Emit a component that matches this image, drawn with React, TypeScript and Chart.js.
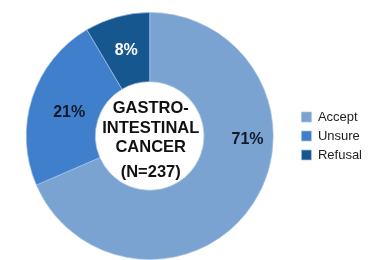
import React, { useEffect, useRef } from "react";
import { Chart, registerables } from "chart.js";

Chart.register(...registerables);

const categories = ["Accept", "Unsure", "Refusal"];
const values = [68.5, 23, 8.5];
const percentLabels = ["71%", "21%", "8%"];
const centerLines = ["GASTRO-", "INTESTINAL", "CANCER", "(N=237)"];
const colors = ["#7aa3d1", "#3f7fcb", "#17578f"];
const labelColors = ["#111a2b", "#111a2b", "#ffffff"];

const labelPlugin = {
  id: "sliceLabels",
  afterDatasetsDraw(chart: any) {
    const ctx = chart.ctx;
    const meta = chart.getDatasetMeta(0);
    ctx.save();
    ctx.textAlign = "center";
    ctx.textBaseline = "middle";
    ctx.font = "bold 16px Arial, 'Liberation Sans', sans-serif";
    meta.data.forEach((arc: any, i: number) => {
      const p = arc.getProps(["x", "y", "startAngle", "endAngle", "innerRadius", "outerRadius"], true);
      let angle = (p.startAngle + p.endAngle) / 2;
      let r = (p.innerRadius + p.outerRadius) / 2;
      if (i === 0) {
        angle = 0.04;
        r = r + 9;
      } else if (i === 1) {
        angle = angle - 0.03;
        r = r - 5;
      }
      const x = p.x + Math.cos(angle) * r;
      const y = p.y + Math.sin(angle) * r;
      ctx.fillStyle = labelColors[i];
      ctx.fillText(percentLabels[i], x, y);
    });
    const a = meta.data[0];
    const cx = a.x + 1;
    const cy = a.y;
    ctx.fillStyle = "#111111";
    ctx.font = "bold 16.5px Arial, 'Liberation Sans', sans-serif";
    const offs = [-28, -8, 11, 36];
    centerLines.forEach((t, i) => ctx.fillText(t, cx, cy + offs[i]));
    ctx.restore();
  },
};

export default function App() {
  const ref = useRef<HTMLCanvasElement>(null);
  useEffect(() => {
    if (!ref.current) return;
    const chart = new Chart(ref.current, {
      type: "doughnut",
      data: {
        labels: categories,
        datasets: [
          {
            data: values,
            backgroundColor: colors,
            borderColor: "rgba(170,195,230,0.7)",
            borderWidth: 1,
          },
        ],
      },
      options: {
        animation: false,
        responsive: true,
        maintainAspectRatio: false,
        cutout: "44%",
        layout: { padding: { top: 12, bottom: 0, left: 4, right: 8 } },
        plugins: {
          tooltip: { enabled: false },
          legend: {
            position: "right",
            labels: {
              boxWidth: 10,
              boxHeight: 10,
              padding: 6,
              color: "#222",
              font: { family: "Arial, 'Liberation Sans', sans-serif", size: 13 },
            },
          },
        },
      },
      plugins: [labelPlugin],
    });
    return () => chart.destroy();
  }, []);
  return (
    <div style={{ position: "fixed", left: 0, top: 0, width: 380, height: 260, background: "#fff" }}>
      <canvas ref={ref} />
    </div>
  );
}
